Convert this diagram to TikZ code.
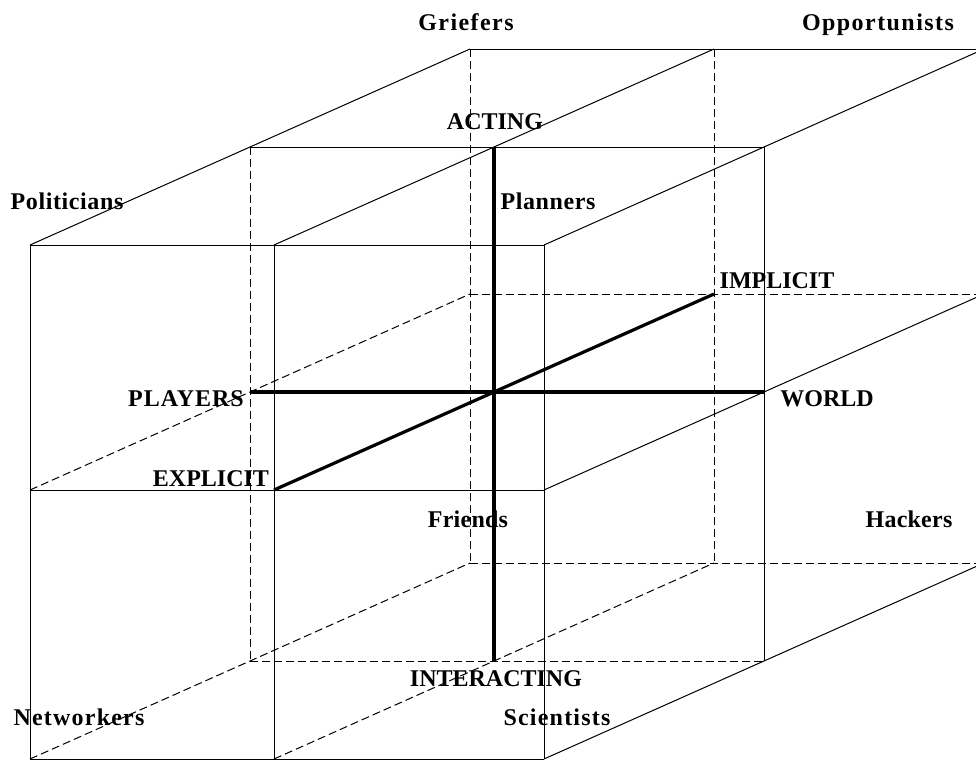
\documentclass[tikz,border=0pt]{standalone}
\usepackage{fontspec}
\setmainfont{Liberation Serif}
\begin{document}
\begin{tikzpicture}[x=0.75pt,y=-0.75pt,
  edge/.style={draw=black,line width=0.75pt},
  hidden/.style={draw=black,line width=0.75pt,dash pattern=on 6pt off 3pt},
  axis/.style={draw=black,line width=2.4pt},
  lbl/.style={inner sep=0pt,anchor=base,
    font=\fontsize{18}{20}\selectfont\bfseries\addfontfeature{LetterSpace=#1}},
  lbl/.default=0]
\useasboundingbox (0,0) rectangle (976,760);
\clip (0,0) rectangle (976,760);

% grid points: plane k (depth), column i, row j
\foreach \k in {0,1,2}
  \foreach \i/\x in {0/30,1/274,2/544}
    \foreach \j/\y in {0/245,1/490,2/759}
      \coordinate (p\k\i\j) at ({\x+220*\k},{\y-98*\k});

% visible edges
\draw[edge] (p000) -- (p020) (p000) -- (p002) (p020) -- (p022) (p002) -- (p022);
\draw[edge] (p010) -- (p012) (p001) -- (p021);
\draw[edge] (p100) -- (p120) (p120) -- (p122);
\draw[edge] (p200) -- (p220);
\draw[edge] (p000) -- (p200) (p010) -- (p210) (p020) -- (p220);
\draw[edge] (p021) -- (p221) (p022) -- (p222);

% hidden edges
\draw[hidden] (p100) -- (p102) (p102) -- (p122);
\draw[hidden] (p200) -- (p202) (p202) -- (p222) (p210) -- (p212) (p201) -- (p221);
\draw[hidden] (p001) -- (p201) (p002) -- (p202) (p012) -- (p212);

% the three axes
\draw[axis] (p110) -- (p112);
\draw[axis] (p101) -- (p121);
\draw[axis] (p011) -- (p211);

% labels
\node[lbl=6] (griefers) at (466,31) {Griefers};
\node[lbl=6] (opportunists) at (878,31) {Opportunists};
\node[lbl] (acting) at (495,129) {ACTING};
\node[lbl=2.5] (politicians) at (67,209) {Politicians};
\node[lbl=2.5] (planners) at (548,209) {Planners};
\node[lbl] (implicit) at (777,288) {IMPLICIT};
\node[lbl=4] (players) at (186,406) {PLAYERS};
\node[lbl] (world) at (827,406) {WORLD};
\node[lbl] (explicit) at (211,486) {EXPLICIT};
\node[lbl=1] (friends) at (468,527) {Friends};
\node[lbl=1] (hackers) at (909,527) {Hackers};
\node[lbl] (interacting) at (496,686) {INTERACTING};
\node[lbl=5] (networkers) at (79,725) {Networkers};
\node[lbl=5] (scientists) at (557,725) {Scientists};
\end{tikzpicture}
\end{document}
